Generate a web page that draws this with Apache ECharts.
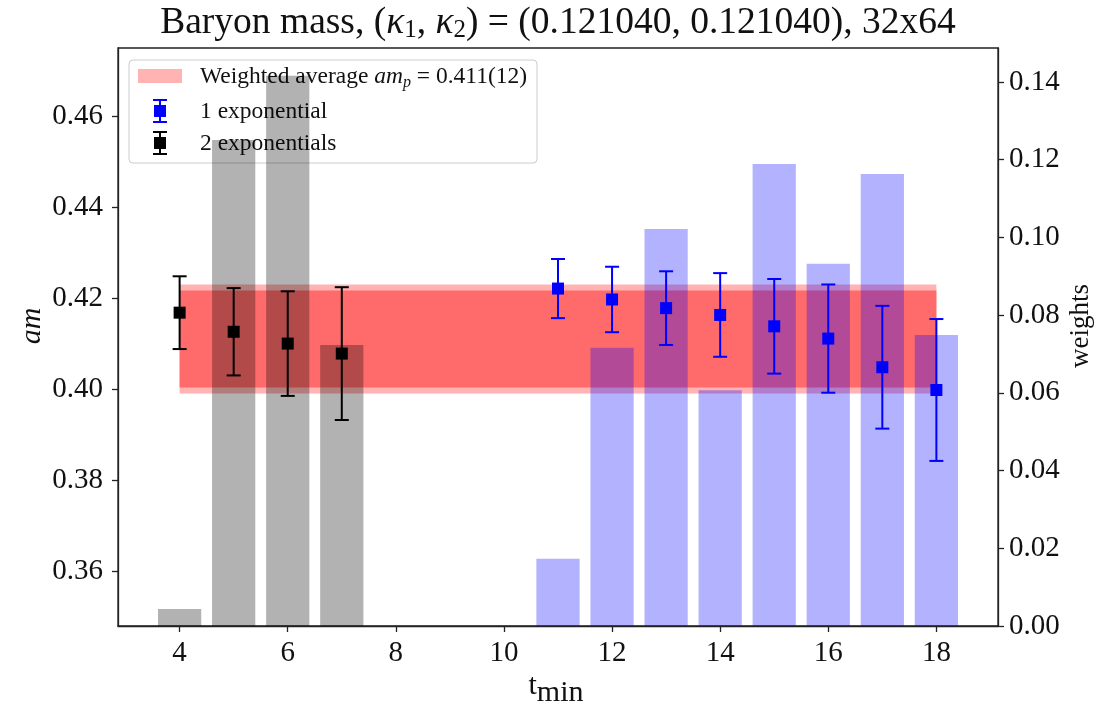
<!DOCTYPE html>
<html>
<head>
<meta charset="utf-8">
<script src="https://cdn.jsdelivr.net/npm/echarts@6/dist/echarts.min.js"></script>
<style>
  html, body { margin: 0; padding: 0; background: #fff; }
  #chart { width: 1114px; height: 704px; }
</style>
</head>
<body>
<div id="chart"></div>
<script>
// Fit start times
const tTwoExp = [4, 5, 6, 7];
const tOneExp = [11, 12, 13, 14, 15, 16, 17, 18];

// Fitted masses and errors (am)
const massTwoExp = [0.4168, 0.4126, 0.4100, 0.4078];
const errTwoExp  = [0.0080, 0.0096, 0.0115, 0.0146];
const massOneExp = [0.4221, 0.4197, 0.4178, 0.4163, 0.4138, 0.4111, 0.4048, 0.3998];
const errOneExp  = [0.0065, 0.0072, 0.0081, 0.0092, 0.0104, 0.0119, 0.0135, 0.0156];

// Fit weights (right axis)
const weightTwoExp = [0.0044, 0.1251, 0.1416, 0.0723];
const weightOneExp = [0.0173, 0.0716, 0.1022, 0.0607, 0.1189, 0.0932, 0.1163, 0.0749];

// Weighted average am_p = 0.411(12), drawn over this t range
const avgMass = 0.411;
const avgErr = 0.012;
const avgRange = [4, 18];

// Tick labels
const xTicks = [4, 6, 8, 10, 12, 14, 16, 18];
const yTicks = [0.36, 0.38, 0.40, 0.42, 0.44, 0.46];
const wTicks = [0.00, 0.02, 0.04, 0.06, 0.08, 0.10, 0.12, 0.14];

const FONT = '"Liberation Serif", "DejaVu Serif", serif';
const BAR_HALF = 0.4;

const chart = echarts.init(document.getElementById('chart'), null, { renderer: 'canvas' });

function zip3(a, b, c) { return a.map((v, i) => [v, b[i], c[i]]); }
function zip2(a, b) { return a.map((v, i) => [v, b[i]]); }

function barItem(color) {
  return function (params, api) {
    const t = api.value(0), w = api.value(1);
    const p0 = api.coord([t - BAR_HALF, w]);
    const p1 = api.coord([t + BAR_HALF, 0]);
    return {
      type: 'rect',
      shape: { x: p0[0], y: p0[1], width: p1[0] - p0[0], height: p1[1] - p0[1] },
      style: { fill: color, opacity: 0.3 }
    };
  };
}

function errItem(color) {
  return function (params, api) {
    const t = api.value(0), m = api.value(1), e = api.value(2);
    const c = api.coord([t, m]);
    const top = api.coord([t, m + e]);
    const bot = api.coord([t, m - e]);
    const cap = 7, sq = 6;
    const ls = { stroke: color, lineWidth: 2 };
    return {
      type: 'group',
      children: [
        { type: 'line', shape: { x1: c[0], y1: top[1], x2: c[0], y2: bot[1] }, style: ls },
        { type: 'line', shape: { x1: c[0] - cap, y1: top[1], x2: c[0] + cap, y2: top[1] }, style: ls },
        { type: 'line', shape: { x1: c[0] - cap, y1: bot[1], x2: c[0] + cap, y2: bot[1] }, style: ls },
        { type: 'rect', shape: { x: c[0] - sq, y: c[1] - sq, width: 2 * sq, height: 2 * sq }, style: { fill: color } }
      ]
    };
  };
}

function bandItem(params, api) {
  const x0 = api.value(0), x1 = api.value(1), m = api.value(2), e = api.value(3);
  const a = api.coord([x0, m + e]);
  const b = api.coord([x1, m - e]);
  const inset = 6;
  return {
    type: 'group',
    children: [
      { type: 'rect', shape: { x: a[0], y: a[1], width: b[0] - a[0], height: b[1] - a[1] },
        style: { fill: '#ffb3b3' } },
      { type: 'rect', shape: { x: a[0], y: a[1] + inset, width: b[0] - a[0], height: b[1] - a[1] - 2 * inset },
        style: { fill: '#ff6b6b' } }
    ]
  };
}

const tickLabel = { color: '#111', fontFamily: FONT, fontSize: 29 };

// Legend drawn as graphics (below the weight bars)
const legendX = 129, legendY = 60;
function errIcon(cx, cy, color) {
  const ls = { stroke: color, lineWidth: 2 };
  return [
    { type: 'line', z: 2, shape: { x1: cx, y1: cy - 11, x2: cx, y2: cy + 11 }, style: ls },
    { type: 'line', z: 2, shape: { x1: cx - 7, y1: cy - 11, x2: cx + 7, y2: cy - 11 }, style: ls },
    { type: 'line', z: 2, shape: { x1: cx - 7, y1: cy + 11, x2: cx + 7, y2: cy + 11 }, style: ls },
    { type: 'rect', z: 2, shape: { x: cx - 6, y: cy - 6, width: 12, height: 12 }, style: { fill: color } }
  ];
}
const legendText = { fontFamily: FONT, fontSize: 23.5, fill: '#111', verticalAlign: 'middle', align: 'left' };

const graphics = [
  { type: 'rect', z: 1, shape: { x: legendX, y: legendY, width: 408, height: 103, r: 4 },
    style: { fill: 'rgba(255,255,255,0.8)', stroke: '#cccccc', lineWidth: 1 } },
  { type: 'rect', z: 2, shape: { x: 138, y: 69, width: 44, height: 14 }, style: { fill: '#ffb3b3' } },
  { type: 'text', z: 2, style: Object.assign({}, legendText, {
      x: 200, y: 77,
      text: 'Weighted average {i|am}{s|p} = 0.411(12)',
      rich: {
        i: { fontFamily: FONT, fontSize: 23.5, fontStyle: 'italic', fill: '#111' },
        s: { fontFamily: FONT, fontSize: 16, fontStyle: 'italic', fill: '#111', padding: [11, 0, 0, 0] }
      }
    }) },
  ...errIcon(160, 111, '#0000ff'),
  { type: 'text', z: 2, style: Object.assign({}, legendText, { x: 200, y: 112, text: '1 exponential' }) },
  ...errIcon(160, 143, '#000000'),
  { type: 'text', z: 2, style: Object.assign({}, legendText, { x: 200, y: 144, text: '2 exponentials' }) },
  // Title
  { type: 'text', z: 5, style: {
      x: 558, y: 23, align: 'center', verticalAlign: 'middle',
      fontFamily: FONT, fontSize: 37.5, fill: '#111',
      text: 'Baryon mass, ({k|κ}{s|1}, {k|κ}{s|2}) = (0.121040, 0.121040), 32x64',
      rich: {
        k: { fontFamily: FONT, fontSize: 37.5, fontStyle: 'italic', fill: '#111' },
        s: { fontFamily: FONT, fontSize: 25, fill: '#111', padding: [14, 0, 0, 0] }
      }
    } },
  // Axis titles
  { type: 'text', z: 5, style: {
      x: 556, y: 686, align: 'center', verticalAlign: 'middle',
      fontFamily: FONT, fontSize: 30, fill: '#111',
      text: 't{s|min}',
      rich: { s: { fontFamily: FONT, fontSize: 30, fill: '#111', padding: [14, 0, 0, 0] } }
    } },
  { type: 'text', z: 5, rotation: Math.PI / 2, x: 32, y: 326, style: {
      x: 0, y: 0, align: 'center', verticalAlign: 'middle',
      fontFamily: FONT, fontSize: 30, fontStyle: 'italic', fill: '#111', text: 'am'
    } },
  { type: 'text', z: 5, rotation: Math.PI / 2, x: 1081, y: 326, style: {
      x: 0, y: 0, align: 'center', verticalAlign: 'middle',
      fontFamily: FONT, fontSize: 27, fill: '#111', text: 'weights'
    } }
];

const option = {
  animation: false,
  backgroundColor: '#ffffff',
  grid: { left: 118, right: 116, top: 48, bottom: 78, show: true, borderColor: '#222', borderWidth: 1.3, backgroundColor: 'transparent' },
  xAxis: {
    type: 'value', min: 2.86, max: 19.14,
    splitLine: { show: false },
    axisLine: { show: true, onZero: false, lineStyle: { color: '#222', width: 1.3 } },
    axisTick: { show: true, length: 6, lineStyle: { color: '#222', width: 1.3 }, customValues: xTicks },
    axisLabel: Object.assign({}, tickLabel, { margin: 13, customValues: xTicks, formatter: v => String(v) })
  },
  yAxis: [
    {
      type: 'value', min: 0.3479, max: 0.4750, position: 'left',
      splitLine: { show: false },
      axisLine: { show: true, onZero: false, lineStyle: { color: '#222', width: 1.3 } },
      axisTick: { show: true, length: 6, lineStyle: { color: '#222', width: 1.3 }, customValues: yTicks },
      axisLabel: Object.assign({}, tickLabel, { margin: 15, customValues: yTicks, formatter: v => v.toFixed(2) })
    },
    {
      type: 'value', min: 0, max: 0.14875, position: 'right',
      splitLine: { show: false },
      axisLine: { show: true, onZero: false, lineStyle: { color: '#222', width: 1.3 } },
      axisTick: { show: true, length: 6, lineStyle: { color: '#222', width: 1.3 }, customValues: wTicks },
      axisLabel: Object.assign({}, tickLabel, { margin: 11, customValues: wTicks, formatter: v => v.toFixed(2) })
    }
  ],
  graphic: graphics,
  series: [
    {
      name: 'Weighted average', type: 'custom', z: 1, yAxisIndex: 0,
      renderItem: bandItem,
      data: [[avgRange[0], avgRange[1], avgMass, avgErr]]
    },
    {
      name: 'weights (2 exp)', type: 'custom', z: 3, yAxisIndex: 1,
      renderItem: barItem('#000000'),
      data: zip2(tTwoExp, weightTwoExp)
    },
    {
      name: 'weights (1 exp)', type: 'custom', z: 3, yAxisIndex: 1,
      renderItem: barItem('#0000ff'),
      data: zip2(tOneExp, weightOneExp)
    },
    {
      name: '2 exponentials', type: 'custom', z: 4, yAxisIndex: 0,
      renderItem: errItem('#000000'),
      data: zip3(tTwoExp, massTwoExp, errTwoExp)
    },
    {
      name: '1 exponential', type: 'custom', z: 4, yAxisIndex: 0,
      renderItem: errItem('#0000ff'),
      data: zip3(tOneExp, massOneExp, errOneExp)
    }
  ]
};

chart.setOption(option);
</script>
</body>
</html>
